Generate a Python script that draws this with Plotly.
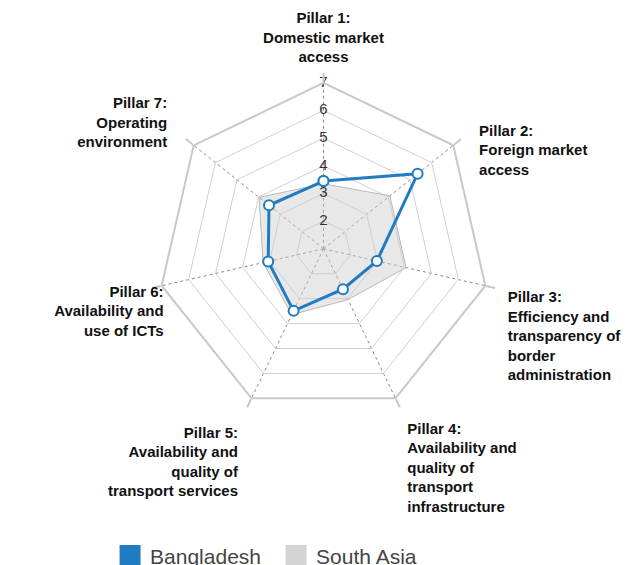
import plotly.graph_objects as go

categories = [
    "Pillar 1:<br>Domestic market<br>access",
    "Pillar 2:<br>Foreign market<br>access",
    "Pillar 3:<br>Efficiency and<br>transparency of<br>border<br>administration",
    "Pillar 4:<br>Availability and<br>quality of<br>transport<br>infrastructure",
    "Pillar 5:<br>Availability and<br>quality of<br>transport services",
    "Pillar 6:<br>Availability and<br>use of ICTs",
    "Pillar 7:<br>Operating<br>environment",
]
bangladesh = [3.45, 5.35, 2.98, 2.62, 3.49, 3.05, 3.52]
south_asia = [3.35, 4.07, 4.06, 3.04, 3.64, 3.24, 3.98]
radial_ticks = [1, 2, 3, 4, 5, 6, 7]

# label styling: side of each category label and its standoff (px from centre)
label_positions = ["top center", "bottom right", "bottom right", "bottom right",
                   "bottom left", "bottom left", "middle left"]
label_standoff = [183, 199, 189, 193, 197, 164, 200]
LABEL_FRAME = 205

BLUE = "#1f7bc2"
W, H = 629, 565
cx, cy, R = 323.5, 248.8, 166


def domain(rad):
    return dict(x=[(cx - rad) / W, (cx + rad) / W], y=[1 - (cy + rad) / H, 1 - (cy - rad) / H])


fig = go.Figure()
fig.add_trace(go.Scatterpolar(
    r=south_asia + [south_asia[0]], theta=categories + [categories[0]],
    fill="toself", fillcolor="rgba(205,205,205,0.45)",
    line=dict(color="#b8b8b8", width=1), mode="lines",
    name="South Asia", showlegend=False, hoverinfo="skip"))
fig.add_trace(go.Scatterpolar(
    r=radial_ticks, theta=[categories[0]] * len(radial_ticks),
    text=[str(v) for v in radial_ticks], mode="text",
    textfont=dict(family="Liberation Sans", size=15, color="#333"),
    textposition="middle center", cliponaxis=False, showlegend=False, hoverinfo="skip"))
fig.add_trace(go.Scatterpolar(
    r=bangladesh + [bangladesh[0]], theta=categories + [categories[0]],
    mode="lines+markers", line=dict(color=BLUE, width=3),
    marker=dict(size=10, color="white", line=dict(color=BLUE, width=2)),
    name="Bangladesh", showlegend=False))
# category labels on an invisible outer polar frame
fig.add_trace(go.Scatterpolar(
    r=label_standoff, theta=categories, subplot="polar2",
    text=["<b>" + c + "</b>" for c in categories], mode="text",
    textposition=label_positions, cliponaxis=False,
    textfont=dict(family="Liberation Sans", size=15, color="#111"),
    showlegend=False, hoverinfo="skip"))
# legend swatches
for nm, col in [("Bangladesh", BLUE), ("South Asia", "#d4d4d4")]:
    fig.add_trace(go.Scatterpolar(
        r=[None], theta=[categories[0]], mode="markers", name=nm,
        marker=dict(symbol="square", size=16, color=col, line=dict(color=col, width=5)),
        showlegend=True))

fig.update_layout(
    width=W, height=H,
    margin=dict(l=0, r=0, t=0, b=0, autoexpand=False),
    paper_bgcolor="white",
    font=dict(family="Liberation Sans", size=15, color="#111"),
    polar=dict(
        domain=domain(R),
        bgcolor="white",
        gridshape="linear",
        radialaxis=dict(range=[1, 7], tickvals=radial_ticks, showticklabels=False,
                        ticks="", showline=False, gridcolor="#d0d0d0", gridwidth=1, angle=90),
        angularaxis=dict(direction="clockwise", rotation=90, showline=True,
                         linecolor="#c8c8c8", linewidth=2, showticklabels=False,
                         gridcolor="#8a8a8a", griddash="dot", gridwidth=1,
                         ticks="outside", ticklen=9, tickcolor="#c8c8c8", tickwidth=1.5),
    ),
    polar2=dict(
        domain=domain(LABEL_FRAME),
        bgcolor="rgba(0,0,0,0)",
        radialaxis=dict(range=[0, LABEL_FRAME], visible=False, showgrid=False),
        angularaxis=dict(direction="clockwise", rotation=90, visible=False, showgrid=False,
                         showline=False, ticks=""),
    ),
    legend=dict(orientation="h", x=0.175, xanchor="left", y=0.016, yanchor="middle",
                font=dict(family="Liberation Sans", size=21, color="#444"),
                entrywidth=121, itemclick=False),
)
fig.write_html("out.html", config={"displayModeBar": False},
               post_script="document.body.style.margin='0';")
